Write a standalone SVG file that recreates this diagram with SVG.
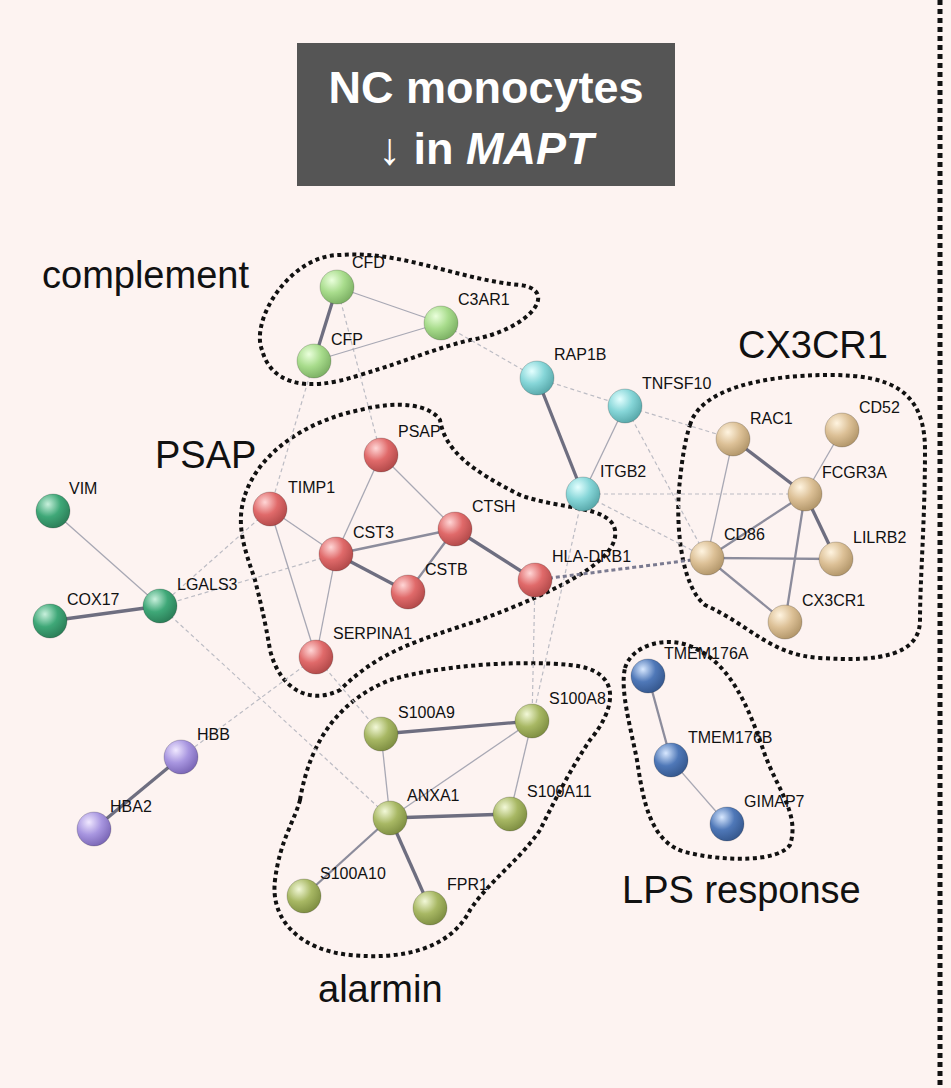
<svg xmlns="http://www.w3.org/2000/svg" width="951" height="1088" viewBox="0 0 951 1088">
<defs>
<radialGradient id="gr" cx="0.35" cy="0.3" r="0.75"><stop offset="0" stop-color="#ffd6d6"/><stop offset="0.5" stop-color="#e06a6a"/><stop offset="1" stop-color="#b04848"/></radialGradient>
<radialGradient id="gg" cx="0.35" cy="0.3" r="0.75"><stop offset="0" stop-color="#eaffdc"/><stop offset="0.5" stop-color="#a8dc8c"/><stop offset="1" stop-color="#7aae62"/></radialGradient>
<radialGradient id="gc" cx="0.35" cy="0.3" r="0.75"><stop offset="0" stop-color="#e4ffff"/><stop offset="0.5" stop-color="#86d6d8"/><stop offset="1" stop-color="#56a6a8"/></radialGradient>
<radialGradient id="gt" cx="0.35" cy="0.3" r="0.75"><stop offset="0" stop-color="#fff4e0"/><stop offset="0.5" stop-color="#dcc096"/><stop offset="1" stop-color="#b09468"/></radialGradient>
<radialGradient id="ge" cx="0.35" cy="0.3" r="0.75"><stop offset="0" stop-color="#c8f0dc"/><stop offset="0.5" stop-color="#3fa878"/><stop offset="1" stop-color="#2a7c56"/></radialGradient>
<radialGradient id="gp" cx="0.35" cy="0.3" r="0.75"><stop offset="0" stop-color="#f0e8ff"/><stop offset="0.5" stop-color="#a896e0"/><stop offset="1" stop-color="#7864b4"/></radialGradient>
<radialGradient id="gb" cx="0.35" cy="0.3" r="0.75"><stop offset="0" stop-color="#d8e8ff"/><stop offset="0.5" stop-color="#4f78b8"/><stop offset="1" stop-color="#34568c"/></radialGradient>
<radialGradient id="go" cx="0.35" cy="0.3" r="0.75"><stop offset="0" stop-color="#f2f8d8"/><stop offset="0.5" stop-color="#a8b864"/><stop offset="1" stop-color="#7c8c40"/></radialGradient>
</defs>
<style>
.bg{fill:#fdf3f1}
.s{stroke:#a8a8b4;stroke-width:1.3;fill:none}
.m{stroke:#8c8c9c;stroke-width:2.3;fill:none}
.t{stroke:#6e6e80;stroke-width:3.3;fill:none}
.d{stroke:#bcbcc4;stroke-width:1.2;stroke-dasharray:4 3;fill:none}
.dd{stroke:#7a7a90;stroke-width:3;stroke-dasharray:4 3;fill:none}
.blob{fill:none;stroke:#111;stroke-width:4;stroke-dasharray:4 3.5}
.n circle{stroke:#00000030;stroke-width:1}
text{font-family:"Liberation Sans",Arial,sans-serif;fill:#111}
.lb{font-size:16px}
.big{font-size:38px}
</style>
<rect class="bg" width="951" height="1088"/>
<line x1="940" y1="0" x2="940" y2="1088" stroke="#111" stroke-width="5" stroke-dasharray="5 4"/>
<g id="title">
<rect x="297" y="43" width="378" height="143" fill="#555555"/>
<text x="486" y="103" text-anchor="middle" font-size="45" font-weight="bold" style="fill:#fff">NC monocytes</text>
<text x="486" y="164" text-anchor="middle" font-size="45" font-weight="bold" style="fill:#fff">↓ in <tspan font-style="italic">MAPT</tspan></text>
</g>
<g id="groups">
<path class="blob" d="M262,350 C250,320 290,255 340,255 C400,250 460,280 520,285 C560,290 530,330 470,340 C430,350 410,360 360,375 C300,395 270,380 262,350 Z"/>
<path class="blob" d="M245,495 C260,450 310,420 360,410 C400,400 430,405 440,420 C445,450 470,470 520,495 C560,510 610,505 615,530 C620,560 560,590 480,620 C420,640 380,650 340,690 C310,705 280,690 270,650 C265,620 260,600 255,580 C245,550 235,525 245,495 Z"/>
<path class="blob" d="M690,425 C700,390 760,375 830,375 C890,375 925,390 925,450 C925,520 920,580 920,620 C920,655 880,662 820,658 C770,655 750,625 705,605 C680,585 675,520 680,480 C682,460 685,440 690,425 Z"/>
<path class="blob" d="M300,800 C310,740 340,700 390,680 C440,665 520,660 570,665 C625,670 615,710 590,740 C570,770 555,800 540,830 C520,860 490,880 470,910 C450,950 400,960 350,955 C300,950 270,920 275,880 C280,840 295,820 300,800 Z"/>
<path class="blob" d="M625,668 C632,645 665,636 690,646 C730,662 748,705 765,755 C778,790 800,815 790,845 C778,862 725,862 685,852 C650,842 643,800 637,760 C630,725 620,690 625,668 Z"/>
<text class="big" x="42" y="288">complement</text>
<text class="big" x="155" y="468">PSAP</text>
<text class="big" x="738" y="358">CX3CR1</text>
<text class="big" x="318" y="1002">alarmin</text>
<text class="big" x="622" y="903">LPS response</text>
</g>
<g id="edges">
<line class="d" x1="441" y1="323" x2="537" y2="378"/>
<line class="d" x1="537" y1="378" x2="625" y2="406"/>
<line class="d" x1="337" y1="287" x2="381" y2="455"/>
<line class="d" x1="314" y1="361" x2="270" y2="509"/>
<line class="d" x1="625" y1="406" x2="733" y2="439"/>
<line class="d" x1="625" y1="406" x2="707" y2="558"/>
<line class="d" x1="583" y1="494" x2="805" y2="494"/>
<line class="d" x1="583" y1="494" x2="707" y2="558"/>
<line class="d" x1="535" y1="580" x2="532" y2="721"/>
<line class="d" x1="583" y1="494" x2="532" y2="721"/>
<line class="d" x1="270" y1="509" x2="160" y2="606"/>
<line class="d" x1="336" y1="554" x2="160" y2="606"/>
<line class="d" x1="160" y1="606" x2="390" y2="818"/>
<line class="d" x1="316" y1="657" x2="181" y2="757"/>
<line class="d" x1="316" y1="657" x2="381" y2="734"/>
<line class="dd" x1="535" y1="580" x2="707" y2="558"/>
<line class="s" x1="337" y1="287" x2="441" y2="323"/>
<line class="t" x1="337" y1="287" x2="314" y2="361"/>
<line class="s" x1="314" y1="361" x2="441" y2="323"/>
<line class="t" x1="537" y1="378" x2="583" y2="494"/>
<line class="s" x1="625" y1="406" x2="583" y2="494"/>
<line class="s" x1="381" y1="455" x2="336" y2="554"/>
<line class="s" x1="381" y1="455" x2="455" y2="529"/>
<line class="s" x1="270" y1="509" x2="336" y2="554"/>
<line class="s" x1="270" y1="509" x2="316" y2="657"/>
<line class="s" x1="336" y1="554" x2="316" y2="657"/>
<line class="m" x1="336" y1="554" x2="455" y2="529"/>
<line class="t" x1="336" y1="554" x2="408" y2="592"/>
<line class="m" x1="408" y1="592" x2="455" y2="529"/>
<line class="t" x1="455" y1="529" x2="535" y2="580"/>
<line class="s" x1="53" y1="511" x2="160" y2="606"/>
<line class="t" x1="50" y1="621" x2="160" y2="606"/>
<line class="t" x1="181" y1="757" x2="94" y2="829"/>
<line class="t" x1="733" y1="439" x2="805" y2="494"/>
<line class="s" x1="733" y1="439" x2="707" y2="558"/>
<line class="s" x1="842" y1="430" x2="805" y2="494"/>
<line class="m" x1="805" y1="494" x2="707" y2="558"/>
<line class="t" x1="805" y1="494" x2="836" y2="559"/>
<line class="m" x1="805" y1="494" x2="785" y2="622"/>
<line class="m" x1="707" y1="558" x2="836" y2="559"/>
<line class="m" x1="707" y1="558" x2="785" y2="622"/>
<line class="m" x1="648" y1="676" x2="671" y2="760"/>
<line class="s" x1="671" y1="760" x2="727" y2="824"/>
<line class="t" x1="381" y1="734" x2="532" y2="721"/>
<line class="s" x1="381" y1="734" x2="390" y2="818"/>
<line class="s" x1="532" y1="721" x2="390" y2="818"/>
<line class="s" x1="532" y1="721" x2="510" y2="814"/>
<line class="t" x1="390" y1="818" x2="510" y2="814"/>
<line class="m" x1="390" y1="818" x2="304" y2="896"/>
<line class="t" x1="390" y1="818" x2="430" y2="908"/>
</g>
<g id="n-CFD" class="n"><circle cx="337" cy="287" r="17" fill="url(#gg)"/><text class="lb" x="352" y="268">CFD</text></g>
<g id="n-C3AR1" class="n"><circle cx="441" cy="323" r="17" fill="url(#gg)"/><text class="lb" x="458" y="305">C3AR1</text></g>
<g id="n-CFP" class="n"><circle cx="314" cy="361" r="17" fill="url(#gg)"/><text class="lb" x="331" y="345">CFP</text></g>
<g id="n-RAP1B" class="n"><circle cx="537" cy="378" r="17" fill="url(#gc)"/><text class="lb" x="554" y="360">RAP1B</text></g>
<g id="n-TNFSF10" class="n"><circle cx="625" cy="406" r="17" fill="url(#gc)"/><text class="lb" x="642" y="389">TNFSF10</text></g>
<g id="n-ITGB2" class="n"><circle cx="583" cy="494" r="17" fill="url(#gc)"/><text class="lb" x="600" y="477">ITGB2</text></g>
<g id="n-PSAP" class="n"><circle cx="381" cy="455" r="17" fill="url(#gr)"/><text class="lb" x="398" y="437">PSAP</text></g>
<g id="n-TIMP1" class="n"><circle cx="270" cy="509" r="17" fill="url(#gr)"/><text class="lb" x="288" y="493">TIMP1</text></g>
<g id="n-CTSH" class="n"><circle cx="455" cy="529" r="17" fill="url(#gr)"/><text class="lb" x="472" y="512">CTSH</text></g>
<g id="n-CST3" class="n"><circle cx="336" cy="554" r="17" fill="url(#gr)"/><text class="lb" x="353" y="538">CST3</text></g>
<g id="n-CSTB" class="n"><circle cx="408" cy="592" r="17" fill="url(#gr)"/><text class="lb" x="425" y="575">CSTB</text></g>
<g id="n-HLA-DRB1" class="n"><circle cx="535" cy="580" r="17" fill="url(#gr)"/><text class="lb" x="552" y="562">HLA-DRB1</text></g>
<g id="n-SERPINA1" class="n"><circle cx="316" cy="657" r="17" fill="url(#gr)"/><text class="lb" x="333" y="639">SERPINA1</text></g>
<g id="n-VIM" class="n"><circle cx="53" cy="511" r="17" fill="url(#ge)"/><text class="lb" x="69" y="494">VIM</text></g>
<g id="n-COX17" class="n"><circle cx="50" cy="621" r="17" fill="url(#ge)"/><text class="lb" x="67" y="605">COX17</text></g>
<g id="n-LGALS3" class="n"><circle cx="160" cy="606" r="17" fill="url(#ge)"/><text class="lb" x="177" y="590">LGALS3</text></g>
<g id="n-HBB" class="n"><circle cx="181" cy="757" r="17" fill="url(#gp)"/><text class="lb" x="197" y="740">HBB</text></g>
<g id="n-HBA2" class="n"><circle cx="94" cy="829" r="17" fill="url(#gp)"/><text class="lb" x="110" y="812">HBA2</text></g>
<g id="n-RAC1" class="n"><circle cx="733" cy="439" r="17" fill="url(#gt)"/><text class="lb" x="750" y="424">RAC1</text></g>
<g id="n-CD52" class="n"><circle cx="842" cy="430" r="17" fill="url(#gt)"/><text class="lb" x="859" y="413">CD52</text></g>
<g id="n-FCGR3A" class="n"><circle cx="805" cy="494" r="17" fill="url(#gt)"/><text class="lb" x="822" y="478">FCGR3A</text></g>
<g id="n-CD86" class="n"><circle cx="707" cy="558" r="17" fill="url(#gt)"/><text class="lb" x="724" y="540">CD86</text></g>
<g id="n-LILRB2" class="n"><circle cx="836" cy="559" r="17" fill="url(#gt)"/><text class="lb" x="853" y="543">LILRB2</text></g>
<g id="n-CX3CR1" class="n"><circle cx="785" cy="622" r="17" fill="url(#gt)"/><text class="lb" x="802" y="606">CX3CR1</text></g>
<g id="n-TMEM176A" class="n"><circle cx="648" cy="676" r="17" fill="url(#gb)"/><text class="lb" x="664" y="659">TMEM176A</text></g>
<g id="n-TMEM176B" class="n"><circle cx="671" cy="760" r="17" fill="url(#gb)"/><text class="lb" x="688" y="743">TMEM176B</text></g>
<g id="n-GIMAP7" class="n"><circle cx="727" cy="824" r="17" fill="url(#gb)"/><text class="lb" x="744" y="807">GIMAP7</text></g>
<g id="n-S100A9" class="n"><circle cx="381" cy="734" r="17" fill="url(#go)"/><text class="lb" x="398" y="718">S100A9</text></g>
<g id="n-S100A8" class="n"><circle cx="532" cy="721" r="17" fill="url(#go)"/><text class="lb" x="549" y="704">S100A8</text></g>
<g id="n-ANXA1" class="n"><circle cx="390" cy="818" r="17" fill="url(#go)"/><text class="lb" x="407" y="801">ANXA1</text></g>
<g id="n-S100A11" class="n"><circle cx="510" cy="814" r="17" fill="url(#go)"/><text class="lb" x="527" y="797">S100A11</text></g>
<g id="n-S100A10" class="n"><circle cx="304" cy="896" r="17" fill="url(#go)"/><text class="lb" x="320" y="879">S100A10</text></g>
<g id="n-FPR1" class="n"><circle cx="430" cy="908" r="17" fill="url(#go)"/><text class="lb" x="447" y="890">FPR1</text></g>
</svg>
